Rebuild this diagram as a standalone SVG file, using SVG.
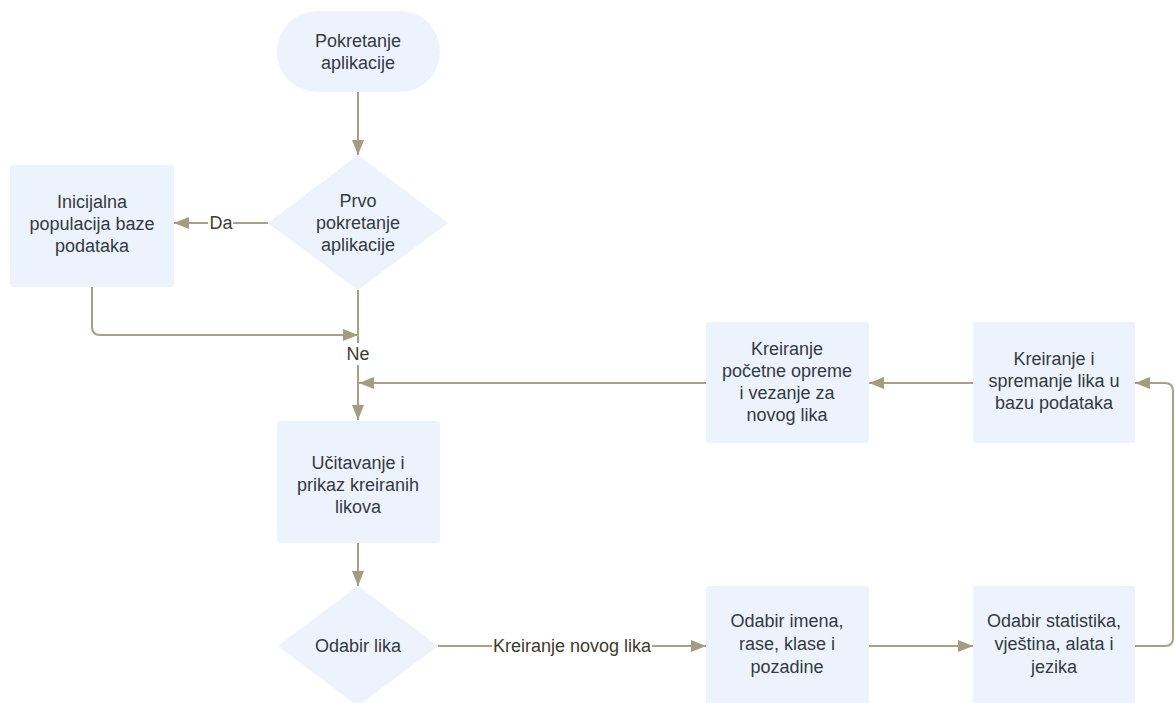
<svg xmlns="http://www.w3.org/2000/svg" width="1175" height="703" viewBox="0 0 1175 703">
<style>
.n{fill:#edf3fd;stroke:none}
.t{font-family:"Liberation Sans",Arial,sans-serif;font-size:18px;fill:#333a44;text-anchor:middle;dominant-baseline:central}
.l{font-family:"Liberation Sans",Arial,sans-serif;font-size:18px;fill:#3e3b30;text-anchor:middle;dominant-baseline:central}
.c{fill:none;stroke:#a8a089;stroke-width:2}
</style>
<defs>
<marker id="a" markerUnits="userSpaceOnUse" markerWidth="16" markerHeight="14" refX="15" refY="7" orient="auto">
<path d="M0,1 L15,7 L0,13 Z" fill="#a39c80"/>
</marker>
</defs>
<rect width="1175" height="703" fill="#ffffff"/>
<g id="connectors">
<path class="c" d="M358 92 V155" marker-end="url(#a)"/>
<path class="c" d="M268 223 H174" marker-end="url(#a)"/>
<path class="c" d="M92 287 V327 Q92 335 100 335 H358" marker-end="url(#a)"/>
<path class="c" d="M358 290 V420" marker-end="url(#a)"/>
<path class="c" d="M358 543 V586" marker-end="url(#a)"/>
<path class="c" d="M438 646 H706" marker-end="url(#a)"/>
<path class="c" d="M869 646 H973" marker-end="url(#a)"/>
<path class="c" d="M1135 646 H1165 Q1173 646 1173 638 V391 Q1173 383 1165 383 H1135" marker-end="url(#a)"/>
<path class="c" d="M973 383 H869" marker-end="url(#a)"/>
<path class="c" d="M706 383 H359" marker-end="url(#a)"/>
<rect x="208" y="212" width="25" height="22" fill="#ffffff"/>
<text class="l" x="221" y="223">Da</text>
<rect x="344" y="343" width="28" height="22" fill="#ffffff"/>
<text class="l" x="358" y="354">Ne</text>
<rect x="492" y="635" width="160" height="22" fill="#ffffff"/>
<text class="l" x="572" y="646">Kreiranje novog lika</text>
</g>
<g id="start">
<rect class="n" x="277" y="11" width="163" height="81" rx="40" ry="40"/>
<text class="t" x="358" y="41">Pokretanje</text>
<text class="t" x="358" y="63">aplikacije</text>
</g>
<g id="prvo">
<polygon class="n" points="358,155 448,223 358,290 268,223"/>
<text class="t" x="358" y="201">Prvo</text>
<text class="t" x="358" y="223">pokretanje</text>
<text class="t" x="358" y="245">aplikacije</text>
</g>
<g id="inicijalna">
<rect class="n" x="10" y="165" width="164" height="122" rx="3"/>
<text class="t" x="92" y="202">Inicijalna</text>
<text class="t" x="92" y="224">populacija baze</text>
<text class="t" x="92" y="246">podataka</text>
</g>
<g id="ucitavanje">
<rect class="n" x="277" y="421" width="163" height="122" rx="3"/>
<text class="t" x="358" y="463">Učitavanje i</text>
<text class="t" x="358" y="485">prikaz kreiranih</text>
<text class="t" x="358" y="507">likova</text>
</g>
<g id="odabir-lika">
<polygon class="n" points="358,586 438,646 358,706 278,646"/>
<text class="t" x="358" y="646">Odabir lika</text>
</g>
<g id="odabir-imena">
<rect class="n" x="706" y="586" width="163" height="122" rx="3"/>
<text class="t" x="787" y="621">Odabir imena,</text>
<text class="t" x="787" y="644">rase, klase i</text>
<text class="t" x="787" y="667">pozadine</text>
</g>
<g id="odabir-statistika">
<rect class="n" x="973" y="586" width="162" height="122" rx="3"/>
<text class="t" x="1054" y="621">Odabir statistika,</text>
<text class="t" x="1054" y="644">vještina, alata i</text>
<text class="t" x="1054" y="667">jezika</text>
</g>
<g id="kreiranje-spremanje">
<rect class="n" x="973" y="322" width="162" height="121" rx="3"/>
<text class="t" x="1054" y="359">Kreiranje i</text>
<text class="t" x="1054" y="381">spremanje lika u</text>
<text class="t" x="1054" y="403">bazu podataka</text>
</g>
<g id="kreiranje-opreme">
<rect class="n" x="706" y="322" width="163" height="121" rx="3"/>
<text class="t" x="787" y="349">Kreiranje</text>
<text class="t" x="787" y="371">početne opreme</text>
<text class="t" x="787" y="393">i vezanje za</text>
<text class="t" x="787" y="415">novog lika</text>
</g>
</svg>
